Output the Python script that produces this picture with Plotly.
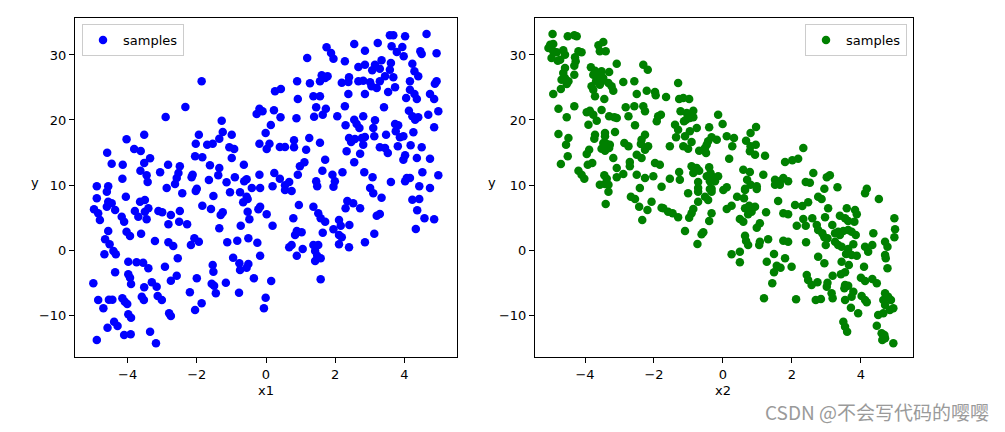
import plotly.graph_objects as go

# ---- data ----
left_x = [
    -1.86, -2.33, -2.90, -4.03, -3.52, -1.94, -2.03, -4.59, -3.81, -3.62,
    -3.35, -3.52, -2.05, -1.84, -4.46, -4.14, -2.83, -2.49, -3.63, -3.06,
    -3.45, -4.15, -2.53, -2.58, -2.12, -2.15, -3.42, -2.63, -4.89, -4.56,
    -2.87, -2.00, 1.75, 1.19, 1.61, 1.71, 1.56, 0.90, 1.27, 0.26,
    0.43, 0.92, 1.37, 1.56, 1.45, 1.73, -0.19, -0.10, -0.27, 0.23,
    0.42, 0.88, 1.39, 1.64, -1.28, 0.14, -0.01, -1.25, -1.35, -0.99,
    -1.70, -1.54, -0.19, 0.10, 0.02, 0.40, 0.55, 0.81, 0.81, 1.25,
    1.16, 1.56, -1.06, -0.92, -0.99, -1.62, -1.35, -0.64, 1.11, 0.98,
    0.92, 1.71, 1.63, -1.38, -0.90, -0.19, 0.24, 0.40, -0.56, -0.63,
    -1.65, -1.14, 0.67, 0.55, 1.45, 1.48, -0.41, -0.17, 0.19, 4.64,
    3.58, 3.68, 4.02, 2.55, 3.23, 3.63, 3.94, 1.88, 1.95, 2.86,
    3.78, 4.46, 4.50, 4.93, 3.98, 2.28, 3.34, 4.23, 2.67, 2.86,
    3.15, 3.07, 3.29, 3.61, 3.58, 4.29, 4.40, 3.44, 3.68, 1.78,
    2.40, 2.38, 2.19, 2.67, 2.81, 3.01, 3.29, 3.05, 3.20, 4.16,
    4.93, 4.88, 3.73, 3.53, 4.16, 4.29, 4.36, 4.05, 4.74, 4.86,
    2.38, 2.86, 2.28, 3.41, 4.13, 4.23, 4.31, 4.40, 4.69, 4.98,
    2.06, 2.81, 2.55, 2.62, 2.70, 3.15, 2.30, 3.73, 3.82, 3.75,
    3.87, 3.97, 3.10, 3.13, 3.47, 4.26, 4.86, 2.40, 2.46, 2.57,
    2.77, 2.86, 2.81, 3.29, 3.44, 3.52, 3.81, 4.18, 4.50, 2.33,
    2.72, 4.02, 3.97, 4.36, 4.74, 2.55, 1.92, 1.99, 2.21, 2.84,
    3.08, 3.61, 4.07, 4.16, 4.02, 4.52, 4.98, 4.43, 4.74, 3.01,
    -4.60, -4.89, -4.05, -2.42, -2.03, -3.64, -3.50, -4.56, -4.46, -4.60,
    -4.36, -4.97, -4.85, -4.80, -1.84, -3.79, -3.69, -3.50, -3.40, -3.45,
    -3.11, -3.00, -2.75, -2.49, -4.17, -4.10, -2.82, -2.51, -2.28, -4.56,
    -4.03, -3.93, -3.61, -4.65, -4.52, -3.21, -2.82, -2.68, -2.07, -2.17,
    -1.94, -4.41, -4.34, -4.67, -2.55, -3.98, -3.74, -3.55, -3.40, -2.92,
    -4.36, -3.98, -3.93, -3.90, -4.99, -2.58, -2.75, -2.00, -3.30, -3.16,
    -3.52, -2.20, -4.85, -4.54, -4.44, -4.15, -4.08, -4.01, -3.59, -3.53,
    -3.13, -3.01, -4.70, -1.86, -2.05, -3.98, -3.90, -2.80, -2.75, -4.39,
    -4.29, -4.58, -4.10, -3.91, -3.35, -4.89, -3.18, -1.52, -1.04, -0.75,
    -0.56, -0.53, -0.66, 0.55, 0.74, -1.59, -1.25, -1.31, -0.53, -0.48,
    -0.17, -0.22, 0.02, 0.95, 1.37, 1.51, 1.58, 1.71, 0.79, -0.73,
    0.19, -1.35, 0.89, 0.84, 1.03, 1.64, -1.12, -0.83, -0.51, -0.25,
    0.74, 0.67, 1.06, 1.37, 1.51, 1.42, 1.48, 1.42, 1.58, 0.89,
    -0.17, -0.95, -0.77, -0.75, -0.51, -0.56, -1.54, -1.52, -0.35, 0.15,
    1.58, -1.57, -1.50, -1.16, -1.45, -0.78, -0.01, -0.06, 1.95, 3.10,
    3.34, 4.23, 4.43, 2.35, 2.52, 2.30, 2.72, 4.37, 3.20, 3.29,
    4.58, 4.86, 2.11, 2.16, 1.95, 2.41, 2.11, 2.19, 3.13, 4.33,
    2.11, 2.40, 2.86,
]
left_y = [
    25.95, 22.00, 20.46, 17.03, 17.74, 17.74, 16.35, 14.97, 15.54, 15.23,
    14.11, 13.38, 14.42, 14.26, 13.28, 13.12, 13.12, 12.88, 12.20, 11.95,
    11.49, 10.97, 11.85, 11.08, 11.58, 11.18, 10.46, 10.15, 9.80, 9.80,
    9.54, 9.43, 31.18, 29.54, 26.88, 26.46, 25.95, 25.95, 25.65, 24.42,
    24.77, 23.23, 23.65, 23.65, 21.95, 21.74, 21.74, 21.34, 20.92, 21.49,
    20.42, 20.26, 20.51, 20.82, 19.89, 19.23, 18.00, 18.15, 17.12, 17.74,
    16.20, 16.35, 16.35, 16.35, 15.54, 15.85, 15.85, 16.88, 15.80, 17.23,
    15.43, 16.51, 15.80, 15.54, 14.15, 13.03, 12.62, 13.12, 13.49, 12.88,
    11.58, 13.89, 12.20, 11.49, 11.18, 11.58, 11.85, 10.97, 10.88, 10.57,
    10.77, 10.42, 10.46, 9.95, 10.57, 9.80, 9.54, 9.54, 9.80, 33.23,
    33.03, 33.03, 32.88, 31.69, 31.85, 31.34, 31.23, 30.31, 29.43, 30.66,
    30.46, 30.57, 30.15, 30.26, 29.80, 29.03, 29.18, 28.66, 28.15, 28.51,
    28.51, 27.65, 27.89, 28.77, 27.74, 27.49, 26.72, 26.72, 26.57, 26.72,
    26.57, 25.85, 25.74, 25.95, 26.05, 25.80, 25.95, 25.18, 24.92, 25.95,
    25.95, 25.58, 25.03, 24.31, 24.66, 24.00, 23.23, 23.38, 24.00, 23.23,
    24.00, 24.00, 22.11, 21.95, 21.43, 20.57, 20.05, 20.42, 20.82, 21.34,
    20.57, 20.57, 20.05, 19.38, 18.77, 19.95, 19.18, 19.38, 19.18, 18.26,
    17.34, 17.49, 18.77, 17.49, 17.74, 18.11, 18.88, 17.23, 16.62, 17.08,
    17.23, 17.38, 16.20, 15.80, 15.69, 14.92, 15.95, 16.11, 15.80, 15.18,
    14.82, 14.57, 13.89, 14.15, 14.05, 13.49, 11.58, 10.57, 11.95, 11.95,
    11.18, 10.46, 11.08, 11.08, 10.57, 11.95, 11.49, 9.80, 9.54, 9.54,
    8.97, 7.95, 8.20, 8.72, 9.08, 7.43, 7.69, 7.43, 7.18, 6.66,
    6.15, 6.26, 5.65, 4.62, 6.82, 6.00, 5.12, 5.89, 6.42, 4.72,
    6.00, 5.80, 5.38, 6.00, 5.12, 4.35, 3.95, 4.35, 3.95, 2.92,
    2.82, 2.15, 2.51, 1.65, 0.88, 1.38, 1.18, 0.62, 1.80, 0.77,
    1.28, -0.15, -0.66, -0.66, -1.28, -1.80, -1.89, -1.95, -2.82, -2.57,
    -3.43, -3.74, -4.26, -5.23, -5.12, -3.95, -4.72, -4.35, -4.97, -5.65,
    -5.74, -6.51, -7.69, -7.65, -7.65, -7.43, -7.95, -8.31, -7.18, -7.69,
    -7.08, -7.69, -8.97, -8.20, -9.23, -9.89, -10.42, -9.74, -10.15, -11.03,
    -11.69, -11.95, -13.08, -12.97, -12.57, -13.85, -14.35, 8.31, 8.88, 8.88,
    8.20, 7.85, 7.34, 9.23, 9.08, 6.31, 5.80, 5.38, 5.89, 4.72,
    6.66, 6.26, 5.49, 6.92, 6.66, 5.65, 4.88, 4.35, 4.88, 3.74,
    3.74, 3.34, 2.92, 2.31, 2.72, 2.66, 1.18, 1.43, 1.80, 1.12,
    0.77, 0.42, 0.15, 0.77, 0.77, -0.15, -0.88, -1.69, -1.28, -0.88,
    -0.88, -1.18, -2.05, -3.08, -2.15, -2.72, -2.31, -3.34, -4.35, -4.77,
    -4.51, -5.18, -5.49, -5.03, -6.66, -6.57, -7.34, -8.97, 9.74, 8.72,
    8.05, 7.74, 7.85, 7.54, 7.18, 6.42, 6.42, 6.11, 5.28, 5.54,
    4.88, 4.72, 4.62, 3.74, 3.18, 3.85, 2.31, 1.95, 2.51, 3.23,
    0.88, 0.42, 1.18,
]

right_x = [
    -4.94, -4.50, -4.31, -4.24, -5.01, -4.92, -5.06, -4.92, -4.82, -4.97,
    -4.79, -4.63, -4.58, -4.72, -4.19, -4.10, -4.29, -4.27, -4.31, -3.61,
    -3.47, -3.40, -3.57, -4.58, -4.63, -4.58, -4.68, -4.48, -4.53, -4.70,
    -4.31, -4.92, -3.83, -3.71, -3.76, -3.61, -3.52, -3.47, -3.68, -3.81,
    -3.76, -3.57, -3.52, -3.30, -3.32, -3.23, -3.18, -3.08, -2.31, -2.18,
    -2.89, -2.57, -3.71, -3.44, -2.50, -2.21, -1.97, -1.95, -4.77, -4.53,
    -4.31, -3.95, -3.86, -3.76, -3.90, -3.66, -3.52, -3.30, -3.15, -3.08,
    -2.82, -2.74, -2.57, -2.55, -2.31, -2.26, -1.88, -1.92, -1.80, -4.77,
    -4.48, -4.55, -3.71, -3.73, -3.42, -3.42, -3.13, -3.47, -3.37, -3.28,
    -3.52, -3.42, -3.30, -3.88, -3.95, -2.86, -2.74, -2.26, -2.36, -2.38,
    -2.17, -2.26, -2.50, -2.36, -4.50, -4.70, -3.18, -2.70, -2.70, -1.97,
    -1.83, -3.92, -3.79, -3.08, -2.89, -4.19, -4.10, -4.02, -3.44, -3.37,
    -3.57, -3.42, -3.32, -3.08, -2.50, -2.26, -2.02, -2.41, -1.30, -1.65,
    -1.27, -1.15, -0.98, -1.23, -1.05, -0.86, -1.07, -0.96, -0.86, -1.13,
    -0.14, -1.39, -1.30, -1.36, -0.76, -0.96, -1.10, -0.40, -0.01, -0.33,
    -0.43, -0.47, -0.52, -0.18, 0.11, 0.32, 0.67, 0.80, 0.96, -1.54,
    -1.15, -1.01, -0.91, -0.69, -0.49, 0.27, 0.80, 0.95, 0.78, 0.93,
    1.22, 0.18, -0.91, -0.76, -0.86, -0.69, -0.40, -0.36, -0.28, -0.23,
    -0.14, -0.47, -0.38, -1.27, -1.25, -1.54, -0.72, 0.59, 0.78, 0.70,
    0.80, 1.17, 1.80, 1.51, 1.65, 1.75, 1.51, 1.65, 0.11, 0.64,
    0.98, -0.72, -0.33, 2.33, 2.01, 2.18, 2.62, 3.01, 3.10, 1.89,
    2.40, 2.52, 2.94, 3.32, 4.17, -3.32, -3.40, -2.67, -2.55, -2.43,
    -2.07, -2.19, -2.34, -1.78, -1.78, -1.01, -0.72, -0.52, -0.43, -0.33,
    -0.38, 0.01, 0.64, 0.98, 0.41, 0.61, 1.60, -1.73, -1.59, -1.46,
    -1.30, -0.86, -0.91, -0.98, -0.72, -0.33, -0.40, 0.11, 0.25, 0.64,
    0.76, 0.83, 0.93, 0.73, 0.49, 0.59, 1.25, 1.75, 1.89, 1.07,
    0.98, -1.10, -0.57, -0.62, 0.64, 0.67, 0.73, 1.07, 1.05, 1.31,
    1.75, 1.89, -0.74, 0.25, 0.49, 0.49, 1.48, 1.27, 1.80, 1.56,
    1.67, 1.48, 1.43, 1.19, 4.12, 4.52, 2.09, 2.30, 2.47, 2.76,
    2.86, 3.05, 3.59, 3.83, 3.88, 2.33, 2.40, 2.14, 2.59, 2.96,
    3.39, 3.54, 3.63, 3.81, 4.97, 2.72, 2.76, 2.88, 2.94, 3.03,
    2.98, 3.17, 3.25, 3.34, 3.39, 3.49, 3.63, 3.73, 3.85, 4.99,
    4.36, 4.97, 2.41, 3.25, 3.34, 3.44, 3.78, 3.63, 3.57, 3.73,
    3.88, 4.12, 4.21, 4.33, 4.70, 4.77, 4.70, 4.72, 4.77, 2.76,
    2.94, 3.44, 3.65, 4.09, 1.99, 3.42, 3.54, 3.18, 4.00, 4.12,
    4.33, 4.46, 2.43, 2.47, 2.57, 2.74, 3.03, 3.01, 3.54, 3.63,
    3.52, 3.15, 3.18, 3.78, 3.73, 3.54, 4.02, 4.12, 4.17, 4.70,
    4.79, 4.65, 4.70, 4.87, 4.94, 4.84, 2.12, 2.69, 2.84, 3.71,
    3.92, 3.49, 3.54, 3.60, 4.50, 4.65, 4.46, 4.60, 4.68, 4.62,
    4.70, 4.94,
]
right_y = [
    33.23, 32.88, 33.03, 32.88, 31.58, 31.69, 31.08, 30.57, 30.42, 29.54,
    29.12, 30.72, 30.05, 29.28, 30.57, 30.42, 29.65, 29.03, 28.35, 31.49,
    32.00, 30.57, 30.57, 28.00, 27.23, 26.46, 26.20, 25.95, 25.54, 24.77,
    26.97, 24.00, 28.11, 27.58, 26.97, 26.88, 27.49, 26.46, 25.95, 25.18,
    24.66, 25.43, 25.95, 27.38, 25.69, 25.18, 24.51, 28.66, 28.51, 27.74,
    25.85, 25.95, 23.65, 23.23, 24.00, 24.51, 24.31, 23.80, 21.74, 20.42,
    22.11, 21.18, 21.43, 20.82, 19.28, 19.89, 21.54, 20.57, 20.42, 20.31,
    21.95, 20.57, 22.11, 19.18, 22.11, 21.34, 20.57, 19.80, 20.82, 17.85,
    17.23, 16.20, 17.74, 17.12, 18.00, 17.49, 18.15, 16.46, 16.31, 16.20,
    15.58, 15.28, 15.69, 15.43, 14.77, 16.46, 15.95, 17.74, 16.97, 16.31,
    15.95, 15.43, 14.66, 14.15, 14.42, 13.23, 14.15, 13.54, 12.88, 13.38,
    13.12, 13.12, 13.38, 12.62, 11.69, 12.20, 11.58, 10.97, 11.49, 10.97,
    10.05, 10.15, 10.05, 11.18, 11.58, 11.08, 11.34, 9.54, 25.69, 23.54,
    23.23, 23.38, 23.23, 21.34, 21.08, 21.43, 20.05, 20.31, 20.42, 19.80,
    20.82, 19.28, 18.51, 17.34, 18.77, 18.26, 17.49, 18.88, 19.38, 17.34,
    16.72, 16.20, 15.69, 16.97, 17.49, 17.23, 16.82, 18.00, 18.92, 15.95,
    15.95, 15.58, 16.62, 15.28, 14.92, 15.95, 15.95, 16.20, 15.18, 14.66,
    14.51, 14.05, 12.88, 12.62, 11.85, 12.20, 12.72, 11.85, 11.18, 10.57,
    11.34, 11.34, 10.57, 12.00, 10.82, 10.97, 10.46, 12.35, 12.00, 10.82,
    10.05, 11.58, 13.54, 10.82, 10.57, 11.08, 10.05, 10.05, 9.65, 9.43,
    9.80, 9.54, 9.43, 15.69, 13.80, 14.05, 11.85, 11.18, 11.49, 10.57,
    10.46, 10.35, 9.43, 9.65, 9.43, 8.97, 7.08, 8.20, 7.85, 6.66,
    7.43, 6.15, 4.62, 9.74, 6.51, 8.72, 8.97, 8.20, 7.69, 8.97,
    9.38, 9.23, 9.23, 9.38, 8.20, 7.95, 7.54, 6.42, 5.89, 5.65,
    5.03, 6.31, 5.65, 4.97, 7.43, 5.65, 4.46, 6.31, 6.82, 6.42,
    6.82, 5.89, 6.66, 5.49, 4.77, 4.35, 5.80, 5.65, 5.49, 4.11,
    3.43, 2.92, 2.72, 2.42, 2.20, 1.38, 0.77, 1.28, 0.77, 1.65,
    1.43, 1.28, 0.92, -0.66, -0.26, -1.89, -0.62, -1.80, -1.28, -2.42,
    -2.72, -3.43, -5.12, -7.43, 8.72, 7.85, 6.92, 6.77, 7.34, 8.20,
    7.85, 6.42, 6.42, 6.15, 5.49, 4.77, 3.74, 3.74, 4.88, 5.03,
    5.28, 4.88, 4.46, 4.35, 4.88, 3.85, 3.08, 2.57, 1.95, 1.80,
    0.77, 3.85, 2.57, 2.82, 2.31, 2.92, 3.08, 2.82, 2.31, 3.18,
    2.57, 1.95, 1.18, 1.28, 0.77, 0.51, 0.88, 0.15, -0.62, -0.77,
    -0.88, 0.51, -0.26, 0.77, 1.28, 0.51, -0.77, -1.28, -2.82, -1.03,
    -2.05, -1.80, -2.31, -2.57, -2.57, -3.74, -3.43, -3.95, -4.26, -4.77,
    -4.46, -5.12, -3.85, -4.62, -5.38, -4.97, -5.03, -5.65, -5.38, -5.49,
    -5.89, -6.66, -7.43, -6.42, -7.18, -7.69, -7.08, -7.69, -8.05, -6.66,
    -7.18, -7.69, -8.46, -7.69, -8.97, -9.23, -7.58, -7.69, -7.54, -8.88,
    -9.74, -11.03, -11.80, -12.57, -10.00, -9.74, -11.65, -12.82, -13.08, -13.85,
    -13.58, -14.35,
]

series_name = "samples"
x_tick_vals = [-4, -2, 0, 2, 4]
x_tick_text = ["\u22124", "\u22122", "0", "2", "4"]
y_tick_vals = [-10, 0, 10, 20, 30]
y_tick_text = ["\u221210", "0", "10", "20", "30"]
x_titles = ["x1", "x2"]
y_title = "y"
watermark = "CSDN @不会写代码的嘤嘤"

FONT = "DejaVu Sans"
# the page body has an 8px margin, so the figure starts at (8, 8)
OFF = 8
W, H = 1005 - 2 * OFF, 432 - 2 * OFF


def px(xpix):
    return (xpix - OFF) / W


def py(ypix):
    return 1 - (ypix - OFF) / H


fig = go.Figure()
fig.add_trace(go.Scatter(
    x=left_x, y=left_y, mode="markers", name=series_name,
    marker=dict(color="#0000ff", size=8.5, line=dict(width=0)),
    xaxis="x", yaxis="y", legend="legend"))
fig.add_trace(go.Scatter(
    x=right_x, y=right_y, mode="markers", name=series_name,
    marker=dict(color="#008000", size=8.5, line=dict(width=0)),
    xaxis="x2", yaxis="y2", legend="legend2"))

axis_common = dict(
    showgrid=False, zeroline=False, showline=True, mirror=True,
    linecolor="black", linewidth=1, ticks="outside", ticklen=5,
    tickwidth=1, tickcolor="black",
    tickfont=dict(family=FONT, size=13, color="black"),
)
ydom = [py(357), py(18)]

legend_common = dict(
    bgcolor="white", bordercolor="#cccccc", borderwidth=1,
    font=dict(family=FONT, size=13, color="black"),
    yanchor="top", y=py(24), itemsizing="trace",
)

fig.update_layout(
    width=W, height=H, autosize=False,
    margin=dict(l=0, r=0, t=0, b=0),
    paper_bgcolor="white", plot_bgcolor="white",
    font=dict(family=FONT, size=13, color="black"),
    xaxis=dict(domain=[px(75), px(457)], range=[-5.52, 5.52], anchor="y",
               tickvals=x_tick_vals, ticktext=x_tick_text, **axis_common),
    yaxis=dict(domain=ydom, range=[-16.46, 35.69], anchor="x",
               tickvals=y_tick_vals, ticktext=y_tick_text, **axis_common),
    xaxis2=dict(domain=[px(535), px(913)], range=[-5.45, 5.51], anchor="y2",
                tickvals=x_tick_vals, ticktext=x_tick_text, **axis_common),
    yaxis2=dict(domain=ydom, range=[-16.46, 35.69], anchor="x2",
                tickvals=y_tick_vals, ticktext=y_tick_text, **axis_common),
    legend=dict(x=px(82), xanchor="left", **legend_common),
    legend2=dict(x=px(907), xanchor="right", **legend_common),
    showlegend=True,
)

ann_font = dict(family=FONT, size=13, color="black")
for txt, xp in ((x_titles[0], 266), (x_titles[1], 723)):
    fig.add_annotation(text=txt, x=px(xp), y=py(390), xref="paper", yref="paper",
                       showarrow=False, font=ann_font, xanchor="center", yanchor="middle")
for xp in (35, 492):
    fig.add_annotation(text=y_title, x=px(xp), y=py(183), xref="paper", yref="paper",
                       showarrow=False, font=ann_font, xanchor="center", yanchor="middle")
fig.add_annotation(text=watermark, x=px(991), y=py(411), xref="paper", yref="paper",
                   showarrow=False, xanchor="right", yanchor="middle",
                   font=dict(family="Noto Sans CJK SC", size=19, color="#9a9a9a"))

fig.write_html("out.html")
